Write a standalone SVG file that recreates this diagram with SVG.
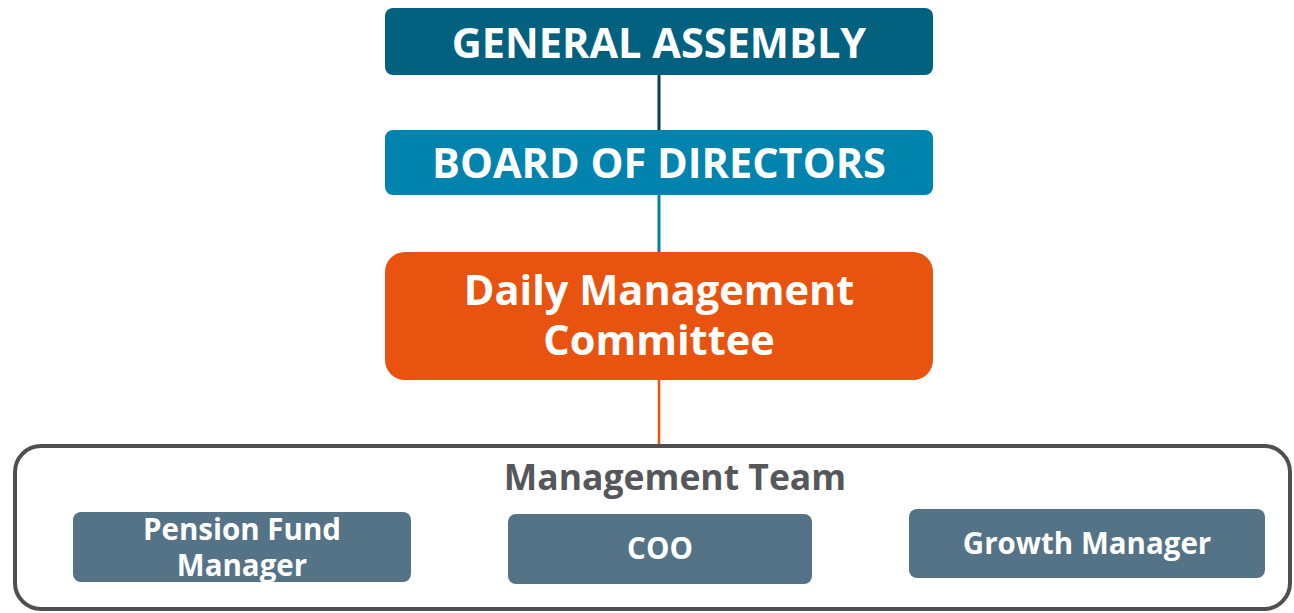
<svg xmlns="http://www.w3.org/2000/svg" width="1294" height="613" viewBox="0 0 1294 613">
<style>
.t{font-family:"Open Sans","Noto Sans","Liberation Sans",sans-serif;font-weight:bold;fill:#fff;text-anchor:middle}
.big{font-size:41.5px}
.small{font-size:29.5px}
.sub{fill:#557386}
</style>
<rect width="1294" height="613" fill="#fff"/>
<g id="connectors" fill="none">
<line x1="659" y1="75" x2="659" y2="130" stroke="#0b3e52" stroke-width="3"/>
<line x1="659" y1="195" x2="659" y2="252" stroke="#0083ad" stroke-width="3"/>
<line x1="659" y1="380" x2="659" y2="446" stroke="#e8540f" stroke-width="2.5"/>
</g>
<g id="general-assembly">
<rect x="385" y="8" width="548" height="67" rx="8" fill="#01617f"/>
<text class="t big" x="659" y="58">GENERAL ASSEMBLY</text>
</g>
<g id="board-of-directors">
<rect x="385" y="130" width="548" height="65" rx="8" fill="#0083ad"/>
<text class="t big" x="659" y="178">BOARD OF DIRECTORS</text>
</g>
<g id="daily-management-committee">
<rect x="385" y="252" width="548" height="128" rx="20" fill="#e8540f"/>
<text class="t big" x="659" y="305">Daily Management</text>
<text class="t big" x="659" y="355">Committee</text>
</g>
<g id="management-team">
<rect x="15" y="446" width="1275" height="163" rx="26" fill="#fff" stroke="#4d4f53" stroke-width="4"/>
<text class="t" x="675" y="490" font-size="35.5" style="fill:#55575b">Management Team</text>
</g>
<g id="pension-fund-manager">
<rect class="sub" x="73" y="512" width="338" height="70" rx="8"/>
<text class="t small" x="242" y="540">Pension Fund</text>
<text class="t small" x="242" y="576">Manager</text>
</g>
<g id="coo">
<rect class="sub" x="508" y="514" width="304" height="70" rx="8"/>
<text class="t small" x="660" y="559">COO</text>
</g>
<g id="growth-manager">
<rect class="sub" x="909" y="509" width="356" height="69" rx="8"/>
<text class="t small" x="1087" y="554">Growth Manager</text>
</g>
</svg>
